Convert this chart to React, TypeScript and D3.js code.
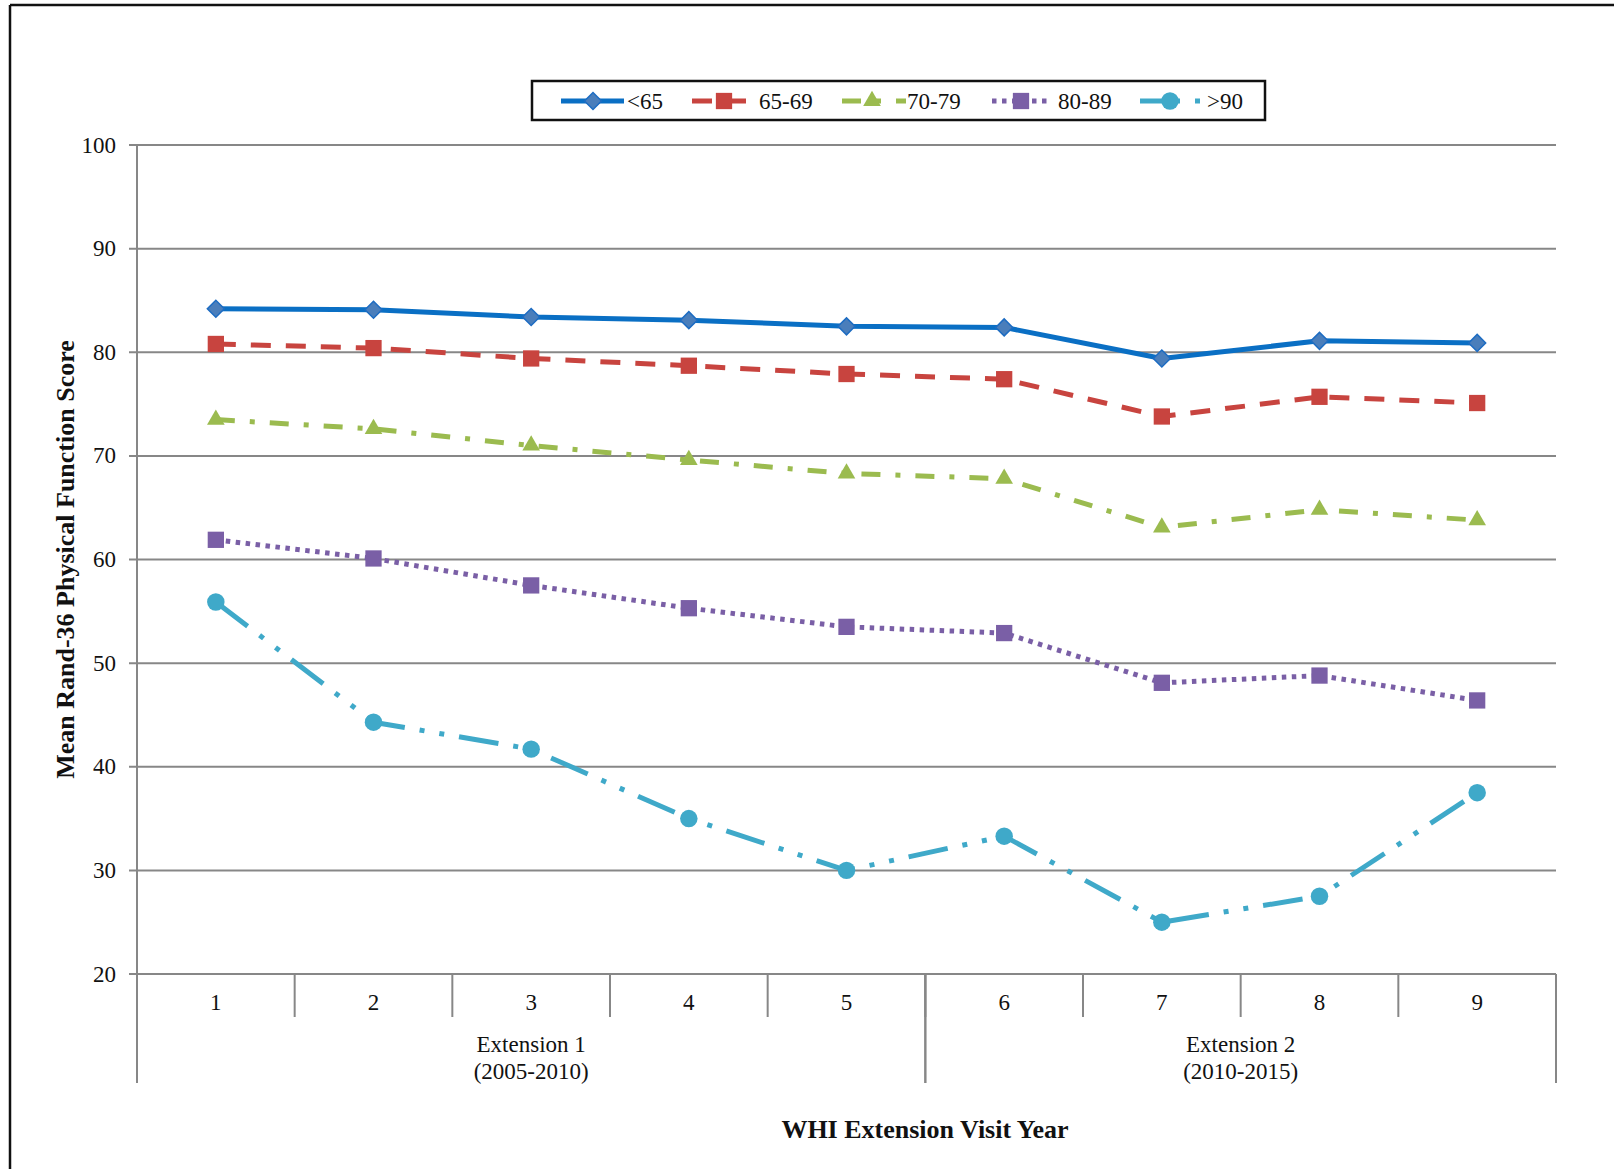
import React from "react";
import * as d3 from "d3";

// Visit years on the x axis
const years = ["1", "2", "3", "4", "5", "6", "7", "8", "9"];

// Mean Rand-36 physical function score by age group
const under65 = [84.2, 84.1, 83.4, 83.1, 82.5, 82.4, 79.4, 81.1, 80.9];
const age6569 = [80.8, 80.4, 79.4, 78.7, 77.9, 77.4, 73.8, 75.7, 75.1];
const age7079 = [73.5, 72.6, 71.0, 69.6, 68.3, 67.8, 63.1, 64.8, 63.8];
const age8089 = [61.9, 60.1, 57.5, 55.3, 53.5, 52.9, 48.1, 48.8, 46.4];
const over90 = [55.9, 44.3, 41.7, 35.0, 30.0, 33.3, 25.0, 27.5, 37.5];

const yTicks = [20, 30, 40, 50, 60, 70, 80, 90, 100];

// Extension periods grouping the visit years
const groups = [
  { name: "Extension 1", years: "(2005-2010)", from: 0, to: 5 },
  { name: "Extension 2", years: "(2010-2015)", from: 5, to: 9 },
];

type SeriesStyle = {
  label: string;
  values: number[];
  color: string;
  markerFill: string;
  markerStroke: string;
  dash: string;
  symbol: "diamond" | "square" | "triangle" | "circle";
};

const series: SeriesStyle[] = [
  { label: "<65", values: under65, color: "#0A6FC4", markerFill: "#4A7EBB", markerStroke: "#1D6CC2", dash: "none", symbol: "diamond" },
  { label: "65-69", values: age6569, color: "#C8443F", markerFill: "#C8443F", markerStroke: "#C8443F", dash: "20,15", symbol: "square" },
  { label: "70-79", values: age7079, color: "#9BBB4F", markerFill: "#9BBB4F", markerStroke: "#9BBB4F", dash: "19,15,5,15", symbol: "triangle" },
  { label: "80-89", values: age8089, color: "#7A5FA6", markerFill: "#7A5FA6", markerStroke: "#7A5FA6", dash: "4.5,5.5", symbol: "square" },
  { label: ">90", values: over90, color: "#3FA9C9", markerFill: "#3FA9C9", markerStroke: "#3FA9C9", dash: "40,15,5,15,5,15", symbol: "circle" },
];

const W = 1614;
const H = 1169;
const left = 137;
const right = 1556;
const top = 145;
const bottom = 974;

const FONT = "'Liberation Serif', 'Times New Roman', serif";

function symbolPath(kind: SeriesStyle["symbol"]): string {
  const gen = d3.symbol();
  switch (kind) {
    case "diamond":
      return gen.type(d3.symbolSquare).size(145)() as string;
    case "square":
      return gen.type(d3.symbolSquare).size(265)() as string;
    case "triangle":
      return gen.type(d3.symbolTriangle).size(135)() as string;
    default:
      return gen.type(d3.symbolCircle).size(240)() as string;
  }
}

function Marker({ s, x, y }: { s: SeriesStyle; x: number; y: number }) {
  const rot = s.symbol === "diamond" ? " rotate(45)" : "";
  return (
    <path
      d={symbolPath(s.symbol)}
      transform={`translate(${x},${y})${rot}`}
      fill={s.markerFill}
      stroke={s.markerStroke}
      strokeWidth={s.symbol === "diamond" ? 1.5 : 0}
    />
  );
}

export default function App() {
  const x = d3.scaleBand<string>().domain(years).range([left, right]).padding(0);
  const y = d3.scaleLinear().domain([20, 100]).range([bottom, top]);
  const cx = (i: number) => (x(years[i]) as number) + x.bandwidth() / 2;
  const bw = x.bandwidth();

  const line = d3
    .line<number>()
    .x((_, i) => cx(i))
    .y((v) => y(v));

  // Legend layout: line sample start, end, marker x, text x
  const legendItems = [
    { x0: 561, x1: 624, mx: 593, tx: 627 },
    { x0: 692, x1: 746, mx: 724, tx: 759 },
    { x0: 842, x1: 906, mx: 872, tx: 907 },
    { x0: 992, x1: 1048, mx: 1021, tx: 1058 },
    { x0: 1140, x1: 1204, mx: 1170, tx: 1207 },
  ];
  const legendY = 101;

  return (
    <svg
      width={W}
      height={H}
      style={{ position: "absolute", left: 0, top: 0, background: "#fff" }}
      fontFamily={FONT}
    >
      <rect x={0} y={0} width={W} height={H} fill="#fff" />
      {/* outer frame */}
      <line x1={10} y1={5} x2={W} y2={5} stroke="#111" strokeWidth={2.5} />
      <line x1={10} y1={5} x2={10} y2={H} stroke="#111" strokeWidth={2.5} />

      {/* horizontal gridlines and y ticks */}
      {yTicks.map((t) => (
        <g key={t}>
          <line x1={left - 8} x2={right} y1={y(t)} y2={y(t)} stroke="#878787" strokeWidth={2} />
          <text x={116} y={y(t) + 7.5} textAnchor="end" fontSize={23} fill="#111">
            {t}
          </text>
        </g>
      ))}
      {/* y axis line */}
      <line x1={left} x2={left} y1={top} y2={bottom} stroke="#878787" strokeWidth={2} />

      {/* x category separators */}
      {years.map((_, i) => (
        <line
          key={"sep" + i}
          x1={left + i * bw}
          x2={left + i * bw}
          y1={bottom}
          y2={1017}
          stroke="#878787"
          strokeWidth={2}
        />
      ))}
      {groups.map((g) => (
        <g key={g.name}>
          <line x1={left + g.from * bw} x2={left + g.from * bw} y1={bottom} y2={1083} stroke="#878787" strokeWidth={2} />
          <line x1={left + g.to * bw} x2={left + g.to * bw} y1={bottom} y2={1083} stroke="#878787" strokeWidth={2} />
          <text x={left + ((g.from + g.to) / 2) * bw} y={1052} textAnchor="middle" fontSize={23} fill="#111">
            {g.name}
          </text>
          <text x={left + ((g.from + g.to) / 2) * bw} y={1079} textAnchor="middle" fontSize={23} fill="#111">
            {g.years}
          </text>
        </g>
      ))}
      {years.map((yr, i) => (
        <text key={"lbl" + yr} x={cx(i)} y={1010} textAnchor="middle" fontSize={23} fill="#111">
          {yr}
        </text>
      ))}

      {/* axis titles */}
      <text x={925} y={1138} textAnchor="middle" fontSize={26} fontWeight="bold" fill="#111">
        WHI Extension Visit Year
      </text>
      <text
        transform={`translate(74, ${(top + bottom) / 2}) rotate(-90)`}
        textAnchor="middle"
        fontSize={26}
        fontWeight="bold"
        fill="#111"
      >
        Mean Rand-36 Physical Function Score
      </text>

      {/* series lines */}
      {series.map((s) => (
        <path
          key={"line" + s.label}
          d={line(s.values) as string}
          fill="none"
          stroke={s.color}
          strokeWidth={5}
          strokeDasharray={s.dash}
          strokeLinejoin="round"
        />
      ))}
      {/* series markers */}
      {series.map((s) =>
        s.values.map((v, i) => <Marker key={s.label + i} s={s} x={cx(i)} y={y(v)} />)
      )}

      {/* legend */}
      <rect x={532} y={81} width={733} height={39} fill="#fff" stroke="#111" strokeWidth={2.5} />
      {series.map((s, k) => {
        const it = legendItems[k];
        return (
          <g key={"leg" + s.label}>
            <line
              x1={it.x0}
              x2={it.x1}
              y1={legendY}
              y2={legendY}
              stroke={s.color}
              strokeWidth={5}
              strokeDasharray={s.dash}
            />
            <Marker s={s} x={it.mx} y={legendY} />
            <text x={it.tx} y={legendY + 8} fontSize={23} fill="#111">
              {s.label}
            </text>
          </g>
        );
      })}
    </svg>
  );
}
